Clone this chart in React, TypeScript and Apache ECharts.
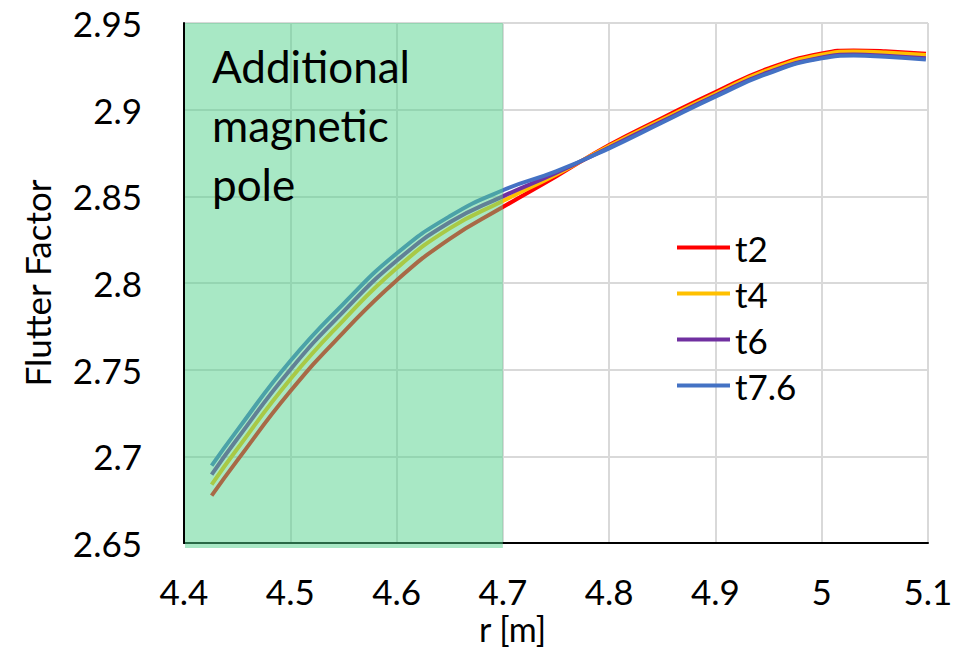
import React, { useEffect, useRef } from "react";
import * as echarts from "echarts";

const rValues = [4.426, 4.45, 4.5, 4.55, 4.6, 4.65, 4.7, 4.75, 4.8, 4.85, 4.9, 4.95, 5.0, 5.03, 5.06, 5.098];
const t2 = [2.6773, 2.6975, 2.7375, 2.7715, 2.8015, 2.8255, 2.8438, 2.8615, 2.8796, 2.8952, 2.9102, 2.9238, 2.9324, 2.9342, 2.9337, 2.9322];
const t4 = [2.6837, 2.7042, 2.7445, 2.7785, 2.8085, 2.8315, 2.8473, 2.8625, 2.879, 2.8943, 2.9092, 2.923, 2.9317, 2.9335, 2.933, 2.9315];
const t6 = [2.6895, 2.71, 2.75, 2.7835, 2.8128, 2.835, 2.85, 2.8635, 2.8782, 2.8933, 2.9082, 2.9216, 2.9301, 2.9318, 2.9311, 2.9296];
const t76 = [2.6946, 2.715, 2.755, 2.788, 2.817, 2.8385, 2.8535, 2.8644, 2.8777, 2.8926, 2.9075, 2.921, 2.9296, 2.9312, 2.9305, 2.929];

const seriesNames = ["t2", "t4", "t6", "t7.6"];
const seriesValues = [t2, t4, t6, t76];
const seriesColors = ["#FF0000", "#FFC000", "#7030A0", "#4472C4"];

// shaded region: [rStart, rEnd, yMin, yMax]
const poleRegion = [[4.4, 4.7, 2.65, 2.95]];
const poleLabel = "Additional\nmagnetic\npole";

const FONT = "Lato";

export default function App() {
  const ref = useRef<HTMLDivElement>(null);
  useEffect(() => {
    document.body.style.margin = "0";
    const chart = echarts.init(ref.current!, null, { renderer: "svg" });
    const lineSeries = seriesNames.map((name, i) => ({
      name,
      type: "line",
      data: rValues.map((r, j) => [r, seriesValues[i][j]]),
      smooth: true,
      showSymbol: false,
      symbol: "none",
      z: 2,
      color: seriesColors[i],
      lineStyle: { width: 4, color: seriesColors[i] },
    }));
    chart.setOption({
      animation: false,
      grid: { left: 184, right: 39, top: 23, bottom: 109 },
      xAxis: {
        type: "value",
        min: 4.4,
        max: 5.1,
        interval: 0.1,
        axisLine: { show: true, lineStyle: { color: "#000", width: 2 } },
        axisTick: { show: false },
        splitLine: { show: true, lineStyle: { color: "#d9d9d9", width: 2 } },
        axisLabel: {
          color: "#000",
          fontFamily: FONT,
          fontSize: 35,
          margin: 30,
          formatter: (v: number) => String(+v.toFixed(2)),
        },
      },
      yAxis: {
        type: "value",
        min: 2.65,
        max: 2.95,
        interval: 0.05,
        name: "Flutter Factor",
        nameLocation: "middle",
        nameGap: 130,
        nameTextStyle: { color: "#000", fontFamily: FONT, fontSize: 35 },
        axisLine: { show: true, lineStyle: { color: "#000", width: 2 } },
        axisTick: { show: false },
        splitLine: { show: true, lineStyle: { color: "#d9d9d9", width: 2 } },
        axisLabel: {
          color: "#000",
          fontFamily: FONT,
          fontSize: 35,
          margin: 42,
          formatter: (v: number) => String(+v.toFixed(2)),
        },
      },
      legend: {
        data: seriesNames,
        orient: "vertical",
        left: 672,
        top: 225,
        itemWidth: 53,
        itemHeight: 4,
        itemGap: 11,
        icon: "rect",
        textStyle: { color: "#000", fontFamily: FONT, fontSize: 35, lineHeight: 32, padding: [0, 0, 0, 0] },
      },
      graphic: [
        {
          type: "text",
          left: 479,
          top: 611,
          style: { text: "r [m]", fill: "#000", font: `34px ${FONT}` },
        },
      ],
      series: [
        ...lineSeries,
        {
          type: "custom",
          name: "pole",
          z: 5,
          silent: true,
          data: poleRegion,
          renderItem: (params: any, api: any) => {
            const p1 = api.coord([api.value(0), api.value(3)]);
            const p2 = api.coord([api.value(1), api.value(2)]);
            return {
              type: "group",
              children: [
                {
                  type: "rect",
                  shape: { x: p1[0] + 1, y: p1[1], width: p2[0] - p1[0] - 1, height: p2[1] - p1[1] + 5 },
                  style: { fill: "rgba(81,210,139,0.5)" },
                },
                {
                  type: "text",
                  x: p1[0] + 28,
                  y: p1[1] + 13,
                  style: {
                    text: poleLabel,
                    fill: "#000",
                    font: `44px ${FONT}`,
                    lineHeight: 59,
                  },
                },
              ],
            };
          },
        },
      ],
    });
    return () => chart.dispose();
  }, []);
  return <div ref={ref} style={{ width: 967, height: 652 }} />;
}
